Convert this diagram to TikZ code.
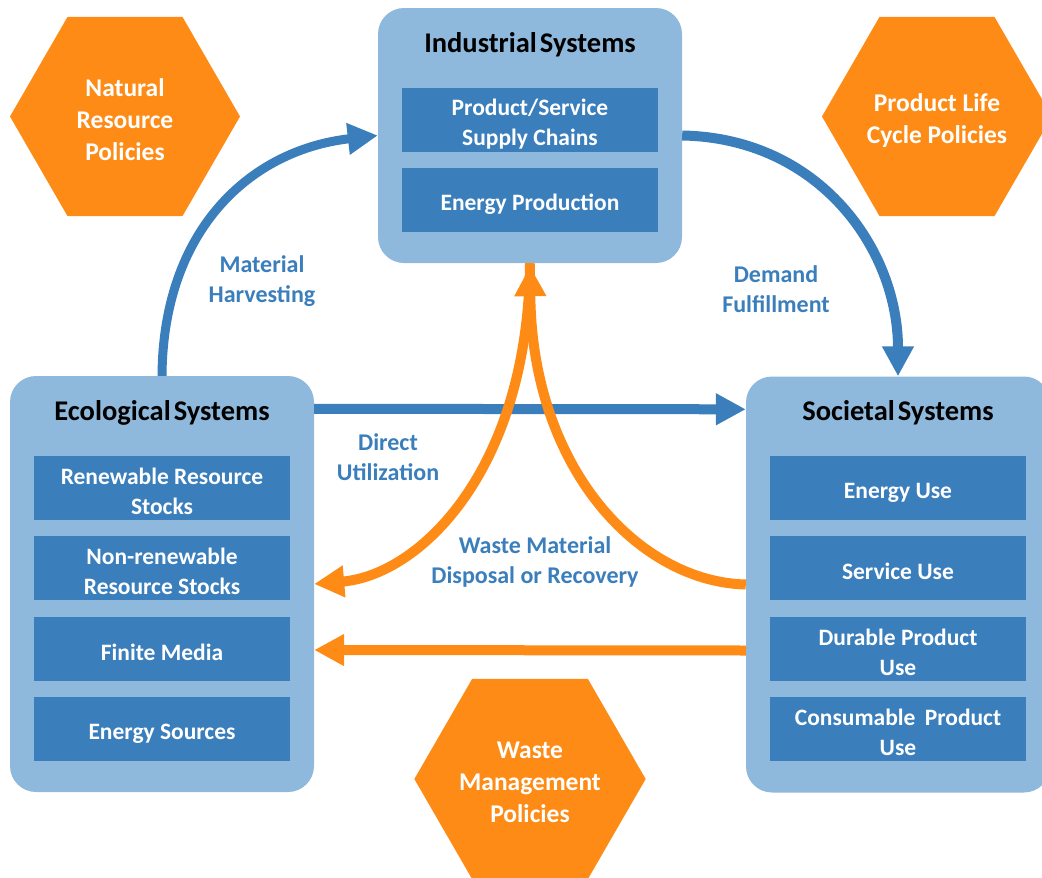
\documentclass[tikz,border=0pt]{standalone}
\usepackage{fontspec}
\setmainfont{Carlito}
\usetikzlibrary{arrows.meta,shapes.geometric,calc}
\definecolor{lightb}{HTML}{8EB9DC}
\definecolor{darkb}{HTML}{3A7EBC}
\definecolor{orng}{HTML}{FD8B15}
\newcommand\firststrut{\rule{0pt}{24pt}}
\begin{document}
\begin{tikzpicture}[x=1pt,y=-1pt,
 sysbox/.style={draw=none,fill=lightb,rounded corners=26pt,minimum width=304pt,inner sep=0},
 subbox/.style={fill=darkb,text=white,minimum width=256pt,minimum height=64pt,align=center,font=\fontsize{23.5}{30}\selectfont\bfseries,inner sep=0},
 systitle/.style={font=\fontsize{28.5}{30}\selectfont\bfseries,text=black,inner sep=0},
 policy/.style={regular polygon,regular polygon sides=6,minimum size=230pt,fill=orng,text=white,align=center,inner sep=0,font=\fontsize{25.5}{32}\selectfont\bfseries},
 flowlabel/.style={text=darkb,align=center,inner sep=0,font=\fontsize{24}{30}\selectfont\bfseries},
 bluearrow/.style={draw=darkb,line width=10pt,-{Triangle[length=30pt,width=30pt]}},
 orangearrow/.style={draw=orng,line width=10pt,-{Triangle[length=30pt,width=30pt]}},
]
\clip (0,0) rectangle (1042,878);
\useasboundingbox (0,0) rectangle (1042,878);
% policies
\node[policy] (nat) at (125,116.5) {\firststrut Natural\\Resource\\Policies};
\node[policy] (plc) at (937,116.5) {\rule{0pt}{27pt}Product Life\\Cycle Policies};
\node[policy] (wmp) at (530,779) {\firststrut Waste\\Management\\Policies};
% industrial
\node[sysbox,minimum height=255pt] (ind) at (530,135.5) {};
\node[systitle] (indt) at (530,45) {Industrial\hspace{3pt}Systems};
\node[subbox] (ind1) at (530,120) {\firststrut Product/Service\\Supply Chains};
\node[subbox] (ind2) at (530,200) {\firststrut Energy Production};
% ecological
\node[sysbox,minimum height=416pt] (eco) at (162,584) {};
\node[systitle] (ecot) at (162,413) {Ecological\hspace{3pt}Systems};
\node[subbox] (eco1) at (162,488) {\firststrut Renewable Resource\\Stocks};
\node[subbox] (eco2) at (162,568) {\firststrut Non-renewable\\Resource Stocks};
\node[subbox] (eco3) at (162,648.5) {\firststrut Finite Media};
\node[subbox] (eco4) at (162,729) {\firststrut Energy Sources};
% societal
\node[sysbox,minimum height=416pt] (soc) at (898,584.5) {};
\node[systitle] (soct) at (898,413) {Societal\hspace{3pt}Systems};
\node[subbox] (soc1) at (898,488) {\firststrut Energy Use};
\node[subbox] (soc2) at (898,568) {\firststrut Service Use};
\node[subbox] (soc3) at (898,648.5) {\firststrut Durable Product\\Use};
\node[subbox] (soc4) at (898,729) {\firststrut Consumable\hspace{4pt} Product\\Use};
% blue flows
\draw[bluearrow,line width=9pt] (eco.north) .. controls (163,230) and (250,150) .. (ind.west);
\draw[bluearrow] (ind.east) .. controls (820,138) and (898,250) .. (soc.north);
\draw[bluearrow] ([yshift=-33pt]eco.north east) -- ([yshift=-33pt]soc.north west);
% orange flows
\draw[orangearrow] (soc.west) .. controls (640,582) and (532,470) .. ([yshift=-3pt]ind.south);
\draw[orangearrow] (ind.south) .. controls (528,470) and (420,575) .. (eco.east);
\draw[orangearrow] ([yshift=-66pt]soc.west) -- ([yshift=-66pt]eco.east);
% labels
\node[flowlabel] (lmh) at (262,281) {Material\\Harvesting};
\node[flowlabel] (ldf) at (776,289) {Demand\\Fulfillment};
\node[flowlabel] (ldu) at (388,457) {Direct\\Utilization};
\node[flowlabel] (lwm) at (535,562) {Waste Material\\Disposal or Recovery};
\end{tikzpicture}
\end{document}
